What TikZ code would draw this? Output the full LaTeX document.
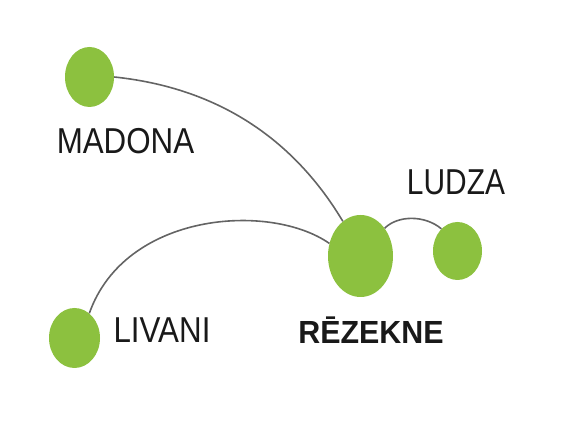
\documentclass[tikz,border=0pt]{standalone}
\usepackage{fontspec}
\setmainfont{Liberation Sans}
\usetikzlibrary{shapes.geometric}
\definecolor{cityg}{RGB}{140,193,63}
\definecolor{edgeg}{RGB}{100,100,100}
\definecolor{txt}{RGB}{25,25,25}
\begin{document}
\begin{tikzpicture}[x=1pt,y=1pt,
  city/.style={ellipse,fill=cityg,draw=none,inner sep=0pt},
  lbl/.style={anchor=base,text=txt,inner sep=0pt,xscale=0.87,font=\fontsize{36}{36}\selectfont},
  blbl/.style={anchor=base,text=txt,inner sep=0pt,xscale=0.95,font=\fontsize{32}{32}\selectfont\bfseries},
  link/.style={draw=edgeg,line width=1.6pt}]
\useasboundingbox (0,0) rectangle (588,427);
\node[city,minimum width=49,minimum height=60] (madona) at (89.5,350) {};
\node[city,minimum width=65,minimum height=82] (rezekne) at (360.5,171) {};
\node[city,minimum width=49,minimum height=58] (ludza) at (457.5,176) {};
\node[city,minimum width=51,minimum height=60] (livani) at (74.5,89) {};
\node[lbl] (tmadona) at (125.5,273) {MADONA};
\node[lbl,xscale=0.955] (tludza) at (456,232) {LUDZA};
\node[lbl] (tlivani) at (162,84) {LIVANI};
\node[blbl] (trezekne) at (371,83) {RĒZEKNE};
\draw[link] (madona.east) .. controls +(115,-12) and +(-43,72) .. (rezekne.117);
\draw[link] (livani.59) .. controls (125,215) and (270,225) .. (rezekne.158);
\draw[link] (rezekne.49) .. controls (398,212) and (425,212) .. (ludza.126);
\end{tikzpicture}
\end{document}
